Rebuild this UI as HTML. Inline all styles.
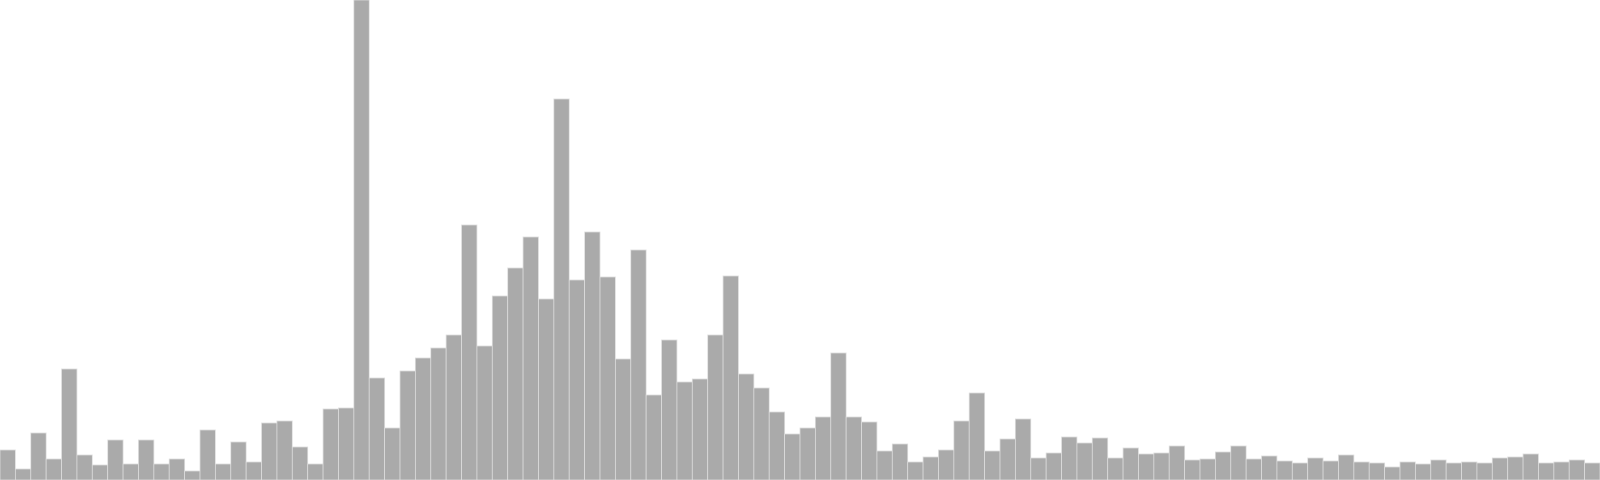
<!DOCTYPE html>
<html><head><meta charset="utf-8"><style>html,body{margin:0;padding:0;background:#fff;}svg{display:block;}</style></head>
<body>
<svg id="chart" width="1600" height="480" xmlns="http://www.w3.org/2000/svg"></svg>
<script>
const counts = [30,11,47,21,111,25,15,40,16,40,16,21,9,50,16,38,18,57,59,33,16,71,72,480,102,52,
109,122,132,145,255,134,184,212,243,181,381,200,248,203,121,230,85,140,98,101,145,204,106,92,68,46,
52,63,127,63,58,29,36,18,23,30,59,87,29,41,61,22,27,43,37,42,22,32,26,27,34,20,21,28,34,21,24,19,
17,22,19,25,18,17,13,18,16,20,17,18,17,22,23,26,17,18,20,17];
const binLabels = counts.map((_, i) => 'bin-' + i);
const W = 1600, H = 480, maxV = 480;
const svg = document.getElementById('chart');
const bw = W / counts.length;
const x = i => i * bw;
const y = v => H - v / maxV * H;
counts.forEach((v, i) => {
  const r = document.createElementNS('http://www.w3.org/2000/svg', 'rect');
  r.setAttribute('x', x(i));
  r.setAttribute('y', y(v));
  r.setAttribute('width', bw);
  r.setAttribute('height', H - y(v));
  r.setAttribute('fill', '#aaaaaa');
  r.setAttribute('stroke', '#dddddd');
  r.setAttribute('stroke-width', '0.8');
  
  
  svg.appendChild(r);
});
</script>
</body></html>
